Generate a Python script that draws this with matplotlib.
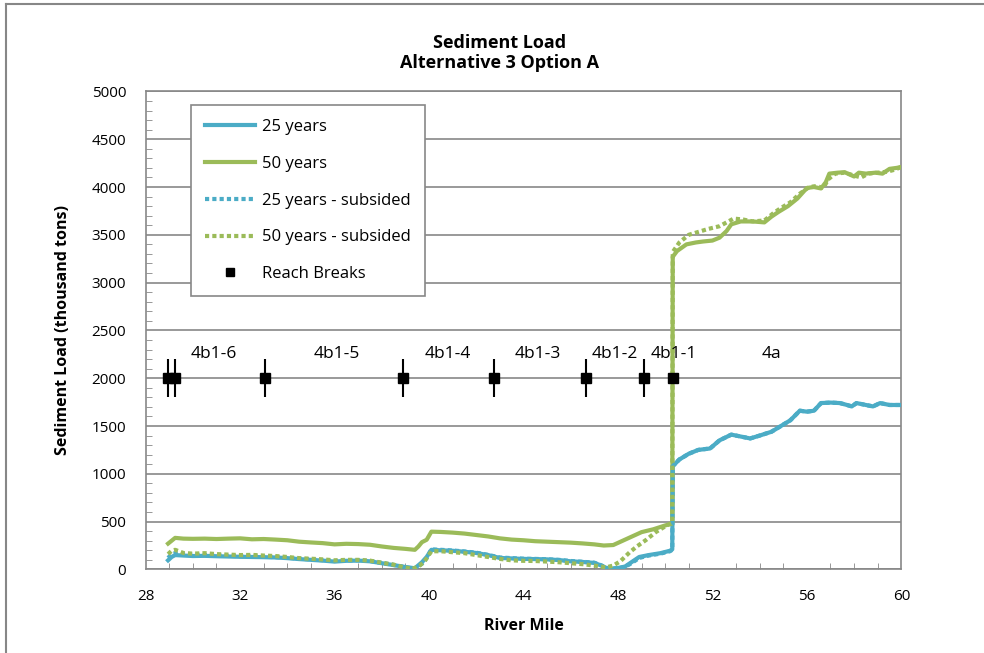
import matplotlib
matplotlib.use("Agg")
import matplotlib.pyplot as plt
from matplotlib.lines import Line2D
from matplotlib.ticker import MultipleLocator

plt.rcParams['font.family'] = ['Open Sans', 'DejaVu Sans']

# 50 years
x50 = [28.95, 29.1, 29.25, 29.6, 30.0, 30.5, 31.0, 31.5, 32.0, 32.5, 33.0, 33.5, 34.0,
       34.5, 35.0, 35.5, 36.0, 36.5, 37.0, 37.5, 38.0, 38.5, 39.0, 39.4, 39.55, 39.7,
       39.9, 40.1, 40.5, 41.0, 41.5, 42.0, 42.5, 43.0, 43.5, 44.0, 44.5, 45.0, 45.5,
       46.0, 46.5, 47.0, 47.4, 47.8, 48.2, 48.6, 49.0, 49.5, 50.0, 50.3, 50.32, 50.5,
       50.9, 51.3, 51.6, 52.0, 52.3, 52.6, 52.8, 53.2, 53.7, 54.2, 54.5, 54.8, 55.2,
       55.6, 56.0, 56.3, 56.6, 56.8, 56.95, 57.3, 57.6, 58.0, 58.2, 58.5, 58.9, 59.2,
       59.5, 59.8, 60.0]
y50 = [270, 300, 330, 322, 320, 322, 318, 322, 325, 315, 318, 312, 305,
       290, 282, 275, 262, 268, 265, 258, 240, 225, 215, 205, 240, 285,
       310, 395, 392, 385, 375, 360, 345, 325, 312, 305, 295, 290, 285,
       280, 272, 262, 250, 255, 300, 345, 390, 420, 460, 480, 3270, 3330,
       3400, 3420, 3430, 3440, 3470, 3540, 3610, 3640, 3640, 3630, 3690, 3740, 3800,
       3880, 3990, 4000, 3985, 4050, 4140, 4150, 4155, 4110, 4150, 4140, 4150, 4140,
       4190, 4200, 4210]

# 50 years - subsided
x50s = [28.95, 29.1, 29.25, 29.6, 30.0, 30.5, 31.0, 31.5, 32.0, 32.5, 33.0, 33.5, 34.0,
        34.5, 35.0, 35.5, 36.0, 36.5, 37.0, 37.5, 38.0, 38.5, 38.9, 39.3, 39.6, 39.8,
        40.1, 40.5, 41.0, 41.5, 42.0, 42.5, 43.0, 43.5, 44.0, 44.5, 45.0, 45.5, 46.0,
        46.5, 47.0, 47.5, 47.8, 48.1, 48.5, 48.8, 49.2, 49.6, 50.0, 50.3, 50.32, 50.6,
        51.0, 51.4, 51.8, 52.3, 52.6, 52.9, 53.3, 53.7, 54.2, 54.6, 54.9, 55.3, 55.7,
        56.1, 56.4, 56.7, 56.9, 57.2, 57.6, 58.0, 58.3, 58.6, 59.0, 59.4, 59.7, 60.0]
y50s = [160, 195, 205, 172, 165, 170, 160, 155, 150, 152, 145, 140, 130,
        118, 112, 105, 95, 100, 100, 92, 70, 50, 25, 5, 40, 80,
        190, 190, 180, 170, 150, 130, 110, 95, 90, 88, 82, 75, 65,
        55, 40, 22, 40, 85, 180, 240, 310, 390, 450, 490, 3320, 3420,
        3500, 3530, 3560, 3590, 3630, 3670, 3660, 3640, 3650, 3730, 3780, 3840, 3930,
        4000, 4010, 3990, 4080, 4140, 4150, 4120, 4100, 4140, 4150, 4160, 4180, 4210]

# 25 years
x25 = [28.95, 29.1, 29.25, 29.6, 30.0, 30.5, 31.0, 31.5, 32.0, 32.5, 33.0, 33.5, 34.0,
       34.5, 35.0, 35.5, 36.0, 36.5, 37.0, 37.5, 38.0, 38.5, 39.0, 39.4, 39.7, 39.9,
       40.1, 40.5, 41.0, 41.5, 42.0, 42.5, 43.0, 43.5, 44.0, 44.5, 45.0, 45.5, 46.0,
       46.5, 47.0, 47.3, 47.6, 48.0, 48.3, 48.6, 48.9, 49.3, 49.8, 50.2, 50.3, 50.32,
       50.6, 51.0, 51.4, 51.9, 52.3, 52.8, 53.2, 53.6, 54.0, 54.5, 54.9, 55.3, 55.7,
       56.0, 56.3, 56.6, 57.0, 57.4, 57.7, 57.9, 58.1, 58.5, 58.8, 59.1, 59.5, 60.0]
y25 = [95, 130, 150, 145, 140, 142, 138, 135, 132, 130, 128, 125, 118,
       108, 100, 92, 82, 90, 92, 85, 65, 45, 25, 12, 75, 130,
       205, 200, 195, 185, 172, 150, 120, 115, 110, 108, 105, 98, 85,
       78, 68, 40, 5, 15, 30, 80, 130, 150, 170, 195, 210, 1080,
       1150, 1210, 1250, 1265, 1350, 1410, 1390, 1370, 1400, 1440, 1500, 1560, 1660,
       1650, 1660, 1740, 1745, 1740, 1720, 1705, 1740, 1720, 1705, 1740, 1720, 1720]

# 25 years - subsided
x25s = x25
y25s = [120, 160, 170, 160, 155, 150, 148, 142, 138, 135, 132, 128, 122,
        112, 105, 96, 88, 94, 95, 88, 68, 48, 22, 8, 60, 120,
        210, 205, 198, 188, 175, 152, 125, 118, 112, 110, 106, 100, 88,
        80, 70, 42, 8, 12, 25, 70, 120, 145, 165, 190, 205, 1080,
        1150, 1210, 1250, 1265, 1350, 1410, 1390, 1370, 1400, 1440, 1500, 1560, 1660,
        1650, 1660, 1740, 1745, 1740, 1720, 1705, 1740, 1720, 1705, 1740, 1720, 1720]

# reach breaks
breaks_x = [28.93, 29.23, 33.04, 38.9, 42.75, 46.63, 49.09, 50.33]
breaks_y = [2000] * len(breaks_x)
reach_names = ['4b1-6', '4b1-5', '4b1-4', '4b1-3', '4b1-2', '4b1-1', '4a']
reach_x = [30.9, 36.1, 40.8, 44.6, 47.85, 50.35, 54.5]

blue = '#4BACC6'
green = '#9BBB59'
gray = '#878787'

fig = plt.figure(figsize=(9.84, 6.53), dpi=100)
ax = fig.add_axes([0.148, 0.128, 0.768, 0.732])

dots = (0, (1.0, 0.75))
ax.plot(x25, y25, color=blue, lw=3, label='25 years', zorder=3, solid_joinstyle='round')
ax.plot(x50, y50, color=green, lw=3, label='50 years', zorder=3, solid_joinstyle='round')
ax.plot(x25s, y25s, color=blue, lw=3, ls=dots, dash_capstyle='butt',
        label='25 years - subsided', zorder=3)
ax.plot(x50s, y50s, color=green, lw=3, ls=dots, dash_capstyle='butt',
        label='50 years - subsided', zorder=3)

ax.errorbar(breaks_x, breaks_y, yerr=200, fmt='none', ecolor='black', elinewidth=1.5,
            capsize=0, zorder=2)
ax.plot(breaks_x, breaks_y, ls='none', marker='s', color='black', ms=7, zorder=5)

for name, xx in zip(reach_names, reach_x):
    ax.text(xx, 2250, name, ha='center', va='center', fontsize=12.5, zorder=6)

ax.set_xlim(28, 60)
ax.set_ylim(0, 5000)
ax.xaxis.set_major_locator(MultipleLocator(4))
ax.xaxis.set_minor_locator(MultipleLocator(1))
ax.yaxis.set_major_locator(MultipleLocator(500))
ax.yaxis.set_minor_locator(MultipleLocator(100))
ax.tick_params(axis='both', which='major', length=0, labelsize=11)
ax.tick_params(axis='x', which='major', pad=14)
ax.tick_params(axis='y', which='major', pad=14)
ax.tick_params(axis='both', which='minor', direction='in', length=4, color=gray)
ax.grid(axis='y', color=gray, lw=1.2)
ax.set_axisbelow(True)
for s in ax.spines.values():
    s.set_color(gray)
    s.set_linewidth(1.2)

ax.set_xlabel('River Mile', fontsize=11.5, fontweight='bold', labelpad=10)
ax.set_ylabel('Sediment Load (thousand tons)', fontsize=11.5, fontweight='bold', labelpad=15)
fig.text(0.508, 1 - 43 / 653, 'Sediment Load', ha='center', va='center',
         fontsize=13, fontweight='bold')
fig.text(0.508, 1 - 63 / 653, 'Alternative 3 Option A', ha='center', va='center',
         fontsize=13, fontweight='bold')

handles = [
    Line2D([], [], color=blue, lw=3),
    Line2D([], [], color=green, lw=3),
    Line2D([], [], color=blue, lw=3, ls=dots, dash_capstyle='butt'),
    Line2D([], [], color=green, lw=3, ls=dots, dash_capstyle='butt'),
    Line2D([], [], ls='none', marker='s', color='black', ms=6),
]
labels = ['25 years', '50 years', '25 years - subsided', '50 years - subsided', 'Reach Breaks']
leg = ax.legend(handles, labels, loc='upper left', bbox_to_anchor=(0.06, 0.972),
                fontsize=12, labelspacing=1.25, handlelength=3.0, handletextpad=0.4,
                borderpad=0.85, borderaxespad=0, fancybox=False, framealpha=1,
                edgecolor=gray)
leg.get_frame().set_linewidth(1.2)
leg.set_zorder(7)

# outer chart border (top and left edges show)
fig.add_artist(Line2D([0.006, 0.006], [0, 0.994], color=gray, lw=1.5))
fig.add_artist(Line2D([0.006, 1.0], [0.994, 0.994], color=gray, lw=1.5))

fig.savefig('out.png', dpi=100)
